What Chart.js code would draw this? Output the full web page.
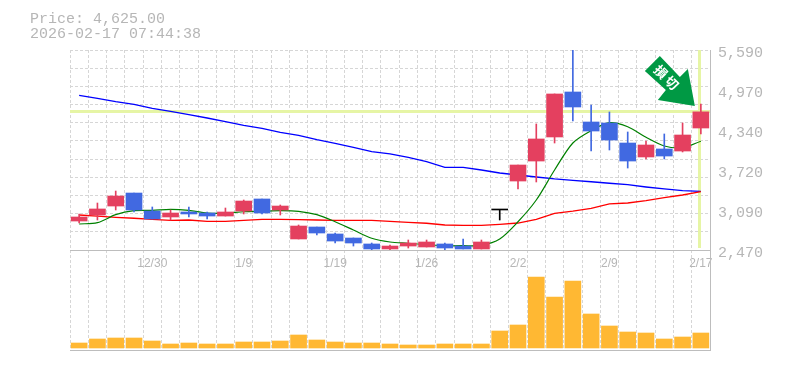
<!DOCTYPE html>
<html>
<head>
<meta charset="utf-8">
<style>
    html, body { margin: 0; padding: 0; background: #fff; }
    canvas { display: block; }
</style>
<script src="https://cdn.jsdelivr.net/npm/chart.js"></script>
</head>
<body>
<canvas id="stockChart" width="785" height="370"></canvas>
<script>
const priceText = 'Price: 4,625.00';
const timeText = '2026-02-17 07:44:38';
const arrowText = ['損', '切'];

const dateLabels = ['', '', '', '', '12/30', '', '', '', '', '1/9', '', '', '', '', '1/19', '', '', '', '', '1/26', '', '', '', '', '2/2', '', '', '', '', '2/9', '', '', '', '', '2/17'];
const priceLabels = [5590, 4970, 4340, 3720, 3090, 2470];
const lastPrice = 4625;

const openPrices = [2922, 3016, 3156, 3359, 3078, 2985, 3063, 3047, 3000, 3078, 3266, 3094, 2642, 2829, 2720, 2657, 2564, 2486, 2532, 2517, 2564, 2532, 2486, 3094, 3546, 3858, 4233, 4935, 4467, 4451, 4139, 3921, 4046, 4014, 4373];
const closePrices = [2985, 3110, 3312, 3094, 2954, 3047, 3032, 3000, 3063, 3234, 3047, 3156, 2844, 2735, 2610, 2579, 2486, 2532, 2579, 2595, 2501, 2486, 2595, 3094, 3796, 4202, 4904, 4701, 4326, 4186, 3858, 4108, 3936, 4264, 4625];
const highPrices = [3032, 3203, 3390, 3359, 3141, 3094, 3141, 3063, 3125, 3250, 3266, 3172, 2860, 2829, 2735, 2657, 2579, 2548, 2626, 2626, 2579, 2642, 2626, 3094, 3796, 4436, 4904, 5590, 4732, 4623, 4311, 4170, 4280, 4451, 4748];
const lowPrices = [2891, 2938, 3094, 3063, 2954, 2938, 2985, 2954, 3000, 3032, 3032, 3016, 2642, 2704, 2579, 2532, 2470, 2470, 2501, 2517, 2470, 2486, 2486, 2938, 3422, 3531, 4139, 4482, 4014, 4030, 3749, 3890, 3890, 3999, 4280];

const avgShort = [2876, 2896, 3021, 3083, 3089, 3105, 3089, 3047, 3043, 3067, 3074, 3083, 3074, 3021, 2911, 2782, 2653, 2595, 2575, 2553, 2537, 2537, 2543, 2642, 2911, 3250, 3718, 4139, 4331, 4456, 4393, 4228, 4092, 4066, 4166];
const avgMiddle = [3016, 3000, 2980, 2965, 2949, 2933, 2938, 2918, 2918, 2933, 2949, 2949, 2943, 2938, 2933, 2933, 2933, 2918, 2902, 2887, 2860, 2855, 2855, 2871, 2891, 2949, 3043, 3078, 3121, 3188, 3203, 3239, 3286, 3328, 3379];
const avgLong = [4883, 4837, 4783, 4743, 4681, 4634, 4581, 4529, 4471, 4415, 4369, 4306, 4259, 4191, 4135, 4072, 4003, 3968, 3916, 3847, 3760, 3760, 3718, 3671, 3640, 3609, 3578, 3557, 3535, 3511, 3489, 3453, 3422, 3395, 3386];

const volumes = [50, 90, 100, 100, 70, 40, 50, 40, 40, 60, 60, 70, 130, 80, 60, 50, 50, 40, 30, 30, 40, 40, 40, 170, 230, 710, 510, 670, 340, 220, 160, 150, 90, 110, 150];

const upColor = '#e4405f';
const downColor = '#4169e1';
const textColor = '#b6b6b6';
const gridColor = '#d6d6d6';
const axisColor = '#bdbdbd';
const crossColor = '#e6f5a5';

const candleColors = openPrices.map((o, i) => {
    if (closePrices[i] > o) return upColor;
    if (closePrices[i] < o) return downColor;
    return '#000000';
});

// 11 divisiones de rejilla en el panel de precio
const gridSteps = 11;
const priceMax = priceLabels[0];
const priceMin = priceLabels[priceLabels.length - 1];

const overlayPlugin = {
    id: 'overlay',
    beforeDatasetsDraw(chart) {
        const { ctx, scales } = chart;
        const y = Math.floor(scales.y.getPixelForValue(lastPrice)) + 0.5;
        const x = Math.floor(scales.x.getPixelForValue(dateLabels.length - 1)) - 0.5;
        ctx.save();
        ctx.strokeStyle = crossColor;
        ctx.lineWidth = 3;
        ctx.beginPath();
        ctx.moveTo(scales.x.left, y);
        ctx.lineTo(scales.x.right, y);
        ctx.moveTo(x, scales.y.top);
        ctx.lineTo(x, scales.y.bottom - 2);
        ctx.stroke();
        ctx.restore();
    },
    afterDraw(chart) {
        const { ctx, scales } = chart;
        ctx.save();
        ctx.fillStyle = textColor;
        ctx.font = '15px "Liberation Mono"';
        ctx.textBaseline = 'alphabetic';
        ctx.fillText(priceText, 30, 23);
        ctx.fillText(timeText, 30, 38);

        // flecha sobre la ultima vela
        const tipX = scales.x.getPixelForValue(dateLabels.length - 1) - 6;
        const tipY = scales.y.getPixelForValue(highPrices[highPrices.length - 1]) + 2;
        const shape = [[-35, -50], [-50, -35], [-29, -16], [-37, -6], [0, 0], [-7, -37], [-15, -29]];
        ctx.fillStyle = '#009944';
        ctx.beginPath();
        shape.forEach((p, i) => {
            if (i === 0) ctx.moveTo(tipX + p[0], tipY + p[1]);
            else ctx.lineTo(tipX + p[0], tipY + p[1]);
        });
        ctx.closePath();
        ctx.fill();

        ctx.fillStyle = '#ffffff';
        ctx.font = 'bold 13px "Noto Sans CJK JP"';
        ctx.textAlign = 'center';
        ctx.textBaseline = 'middle';
        arrowText.forEach((ch, i) => {
            ctx.save();
            ctx.translate(tipX - 34 + i * 11, tipY - 34 + i * 11);
            ctx.rotate(Math.PI / 4);
            ctx.fillText(ch, 0, 0);
            ctx.restore();
        });
        ctx.restore();
    }
};

new Chart(document.getElementById('stockChart').getContext('2d'), {
    type: 'bar',
    data: {
        labels: dateLabels,
        datasets: [
            {
                type: 'bar',
                label: 'Cuerpo',
                data: openPrices.map((o, i) => [o, closePrices[i]]),
                backgroundColor: candleColors,
                barThickness: 16,
                minBarLength: 1,
                grouped: false,
                yAxisID: 'y',
                order: 0
            },
            {
                type: 'bar',
                label: 'Mecha',
                data: lowPrices.map((l, i) => [l, highPrices[i]]),
                backgroundColor: candleColors,
                barThickness: 1,
                grouped: false,
                yAxisID: 'y',
                order: 1
            },
            {
                type: 'line',
                label: 'MA corta',
                data: avgShort,
                borderColor: '#008000',
                borderWidth: 1.2,
                pointRadius: 0,
                tension: 0.3,
                yAxisID: 'y',
                order: 2
            },
            {
                type: 'line',
                label: 'MA media',
                data: avgMiddle,
                borderColor: '#ff0000',
                borderWidth: 1.3,
                pointRadius: 0,
                yAxisID: 'y',
                order: 2
            },
            {
                type: 'line',
                label: 'MA larga',
                data: avgLong,
                borderColor: '#0000ff',
                borderWidth: 1.3,
                pointRadius: 0,
                yAxisID: 'y',
                order: 2
            },
            {
                type: 'bar',
                label: 'Volumen',
                data: volumes,
                backgroundColor: '#ffb833',
                barThickness: 16,
                grouped: false,
                yAxisID: 'yv',
                order: 3
            }
        ]
    },
    options: {
        responsive: false,
        animation: false,
        layout: { padding: { left: 70, right: 0, top: 50, bottom: 20 } },
        plugins: {
            legend: { display: false },
            tooltip: { enabled: false }
        },
        scales: {
            x: {
                position: { y: priceMin },
                offset: true,
                grid: { display: true, offset: true, color: gridColor, lineWidth: 1, drawTicks: false },
                border: { display: true, color: axisColor, width: 1, dash: [3, 2] },
                ticks: {
                    autoSkip: false,
                    maxRotation: 0,
                    minRotation: 0,
                    padding: 6,
                    color: textColor,
                    font: { family: '"Liberation Sans"', size: 12 }
                }
            },
            y: {
                position: 'right',
                stack: 'panels',
                stackWeight: 2,
                min: priceMin,
                max: priceMax,
                afterFit(scale) { scale.width = 75; },
                afterBuildTicks(scale) {
                    const ticks = [];
                    for (let i = 0; i <= gridSteps; i++) {
                        ticks.push({ value: priceMin + (priceMax - priceMin) * i / gridSteps, isGrid: true });
                    }
                    priceLabels.forEach(v => ticks.push({ value: v, isLabel: true }));
                    scale.ticks = ticks;
                },
                grid: {
                    drawTicks: false,
                    color: ctx => (ctx.tick && ctx.tick.isGrid ? gridColor : 'rgba(0,0,0,0)')
                },
                border: { display: true, color: axisColor, width: 1, dash: [3, 2] },
                ticks: {
                    autoSkip: false,
                    padding: 8,
                    labelOffset: 3,
                    color: textColor,
                    font: { family: '"Liberation Mono"', size: 15 },
                    callback: function(value, index, ticks) {
                        return ticks[index].isLabel ? value.toLocaleString('en-US') : '';
                    }
                }
            },
            yv: {
                position: 'right',
                stack: 'panels',
                stackWeight: 1,
                min: -20,
                max: 980,
                afterFit(scale) { scale.width = 75; },
                afterBuildTicks(scale) { scale.ticks = [{ value: -20 }]; },
                grid: { drawTicks: false, color: axisColor, lineWidth: 1 },
                border: { display: true, color: axisColor, width: 1 },
                ticks: { display: false }
            }
        }
    },
    plugins: [overlayPlugin]
});
</script>
</body>
</html>
